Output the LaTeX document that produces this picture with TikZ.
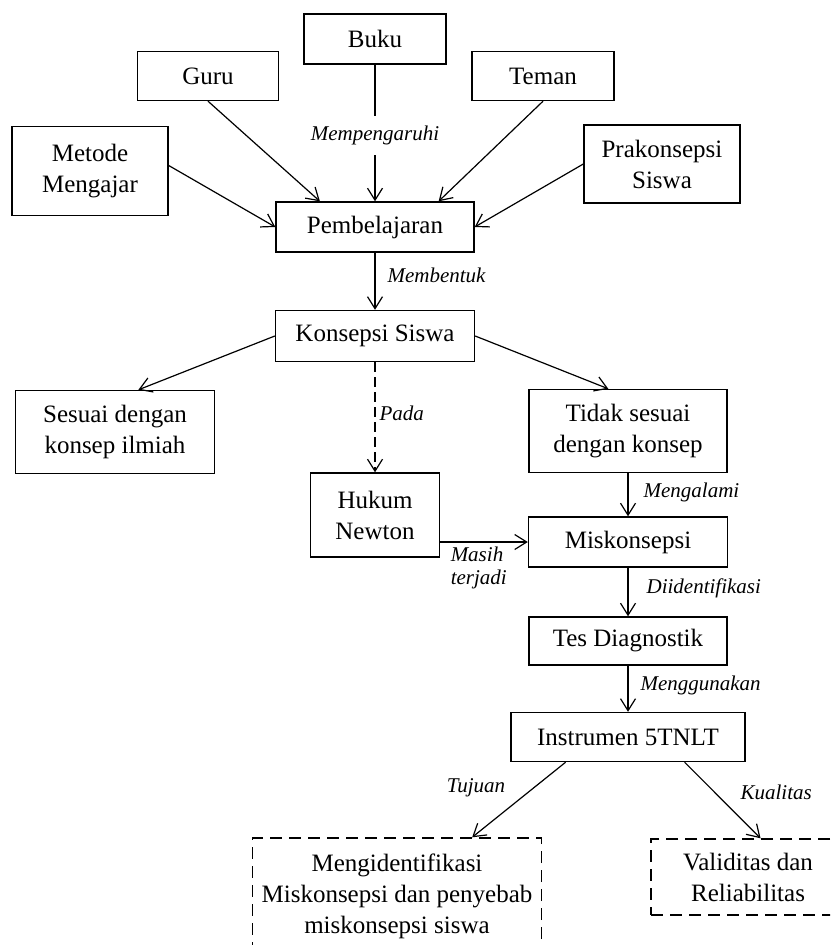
\documentclass[tikz,border=0pt]{standalone}
\usepackage{fontspec}
\setmainfont{Liberation Serif}
\usetikzlibrary{arrows.meta,calc}
\tikzstyle{cmap}=[
  x=1pt,y=-1pt,>={Straight Barb[length=12pt,width=15pt]},font=\fontsize{25}{31}\selectfont
]
\tikzstyle{cbox}=[
  draw,rectangle,line width=1.4pt,align=center,inner sep=0pt,fill=white
]
\tikzstyle{cboxdash}=[
  cbox,dash pattern=on 12pt off 7pt
]
\tikzstyle{link}=[
  ->,line width=1.2pt
]
\tikzstyle{linkdash}=[
  link,dash pattern=on 10pt off 5pt
]
\tikzstyle{lbl}=[
  font=\fontsize{21}{23}\selectfont\itshape,inner sep=4pt
]

\begin{document}
\begin{tikzpicture}[cmap]
  \useasboundingbox (0,0) rectangle (830,945);
  \clip (0,0) rectangle (830,945);
  % boxes
  \node (buku) at (375,39) [cbox,minimum width=142,minimum height=50] {Buku};
  \node (guru) at (208,76) [cbox,minimum width=141,minimum height=49] {Guru};
  \node (teman) at (543,76) [cbox,minimum width=142,minimum height=49] {Teman};
  \node (metode) at (90,171) [cbox,minimum width=156,minimum height=89] {Metode\\Mengajar};
  \node (prakon) at (662,164) [cbox,minimum width=156,minimum height=78] {Prakonsepsi\\Siswa};
  \node (pemb) at (375,227) [cbox,minimum width=198,minimum height=50] {Pembelajaran};
  \node (konsep) at (375,336) [cbox,minimum width=199,minimum height=51] {Konsepsi Siswa};
  \node (sesuai) at (115,432) [cbox,minimum width=199,minimum height=83] {Sesuai dengan\\konsep ilmiah};
  \node (tidak) at (628,431) [cbox,minimum width=198,minimum height=83] {Tidak sesuai\\dengan konsep};
  \node (hukum) at (375,515) [cbox,minimum width=129,minimum height=84] {Hukum\\Newton};
  \node (miskon) at (628,542) [cbox,minimum width=199,minimum height=50] {Miskonsepsi};
  \node (tes) at (628,641) [cbox,minimum width=198,minimum height=48] {Tes Diagnostik};
  \node (instr) at (628,737) [cbox,minimum width=234,minimum height=49] {Instrumen 5TNLT};
  \node (tujuan) at (397,896) [cboxdash,minimum width=289,minimum height=116] {Mengidentifikasi\\Miskonsepsi dan penyebab\\miskonsepsi siswa};
  \node (mutu) at (748,877) [cboxdash,minimum width=194,minimum height=76] {Validitas dan\\Reliabilitas};
  % connectors
  \draw [link] (buku) -- node (lpengaruh) [lbl,fill=white,inner ysep=10pt,inner xsep=2pt,pos=0.52] {Mempengaruhi} (pemb);
  \draw [link] (guru.south) -- (pemb.155.6);
  \draw [link] (teman.south) -- (pemb.22.6);
  \draw [link] (metode.4) -- (pemb.west);
  \draw [link] (prakon.west) -- (pemb.east);
  \draw [link] (pemb) -- node (lbentuk) [lbl,right=8pt,pos=0.4] {Membentuk} (konsep);
  \draw [link] (konsep.west) -- (sesuai.61);
  \draw [link] (konsep.east) -- (tidak.115);
  \draw [linkdash] (konsep) -- node (lpada) [lbl,right,pos=0.46] {Pada} (hukum);
  \draw [link] (tidak) -- node (lalami) [lbl,right=11pt,pos=0.44] {Mengalami} (miskon);
  \draw [link] (hukum.east |- miskon.west) -- node (lmasih) [lbl,below,align=left,pos=0.44] {Masih\\terjadi} (miskon.west);
  \draw [link] (miskon) -- node (lidentif) [lbl,right=14pt,pos=0.42] {Diidentifikasi} (tes);
  \draw [link] (tes) -- node (lguna) [lbl,right=8pt,pos=0.43] {Menggunakan} (instr);
  \draw [link] (instr.-158) -- node (ltujuan) [lbl,left=24pt,pos=0.34] {Tujuan} (tujuan.38);
  \draw [link] (instr.-24.5) -- node (lkual) [lbl,right=21pt,pos=0.4] {Kualitas} (mutu.72.5);
\end{tikzpicture}
\end{document}
